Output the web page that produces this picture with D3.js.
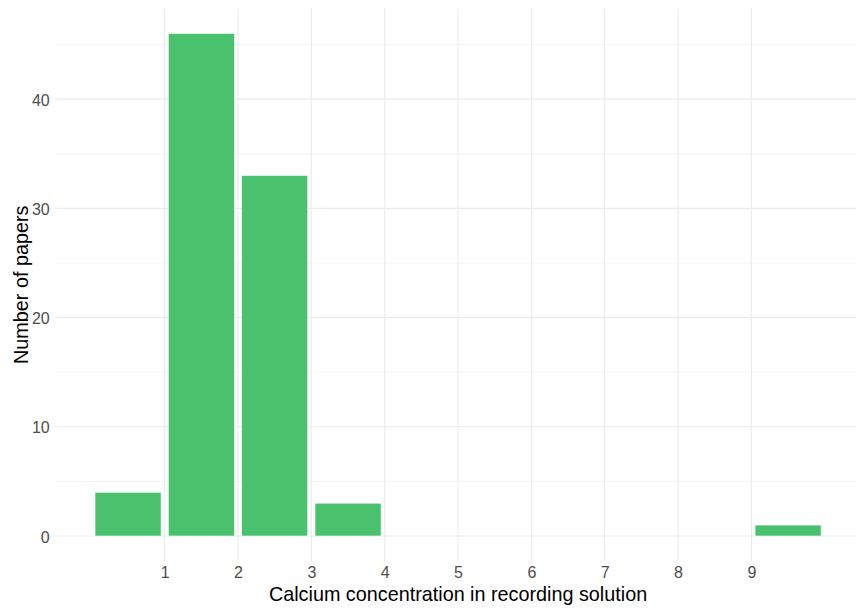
<!DOCTYPE html>
<html>
<head>
<meta charset="utf-8">
<script src="https://cdn.jsdelivr.net/npm/d3@7"></script>
<style>
  html, body { margin: 0; padding: 0; background: #fff; }
  svg { display: block; font-family: "Liberation Sans", Arial, sans-serif; }
</style>
</head>
<body>
<svg id="chart" width="856" height="610"></svg>
<script>
// Histogram: calcium concentration (bins of width 1) vs. number of papers
const binStarts = [0, 1, 2, 3, 9];
const paperCounts = [4, 46, 33, 3, 1];
const xTicks = [1, 2, 3, 4, 5, 6, 7, 8, 9];
const yTicks = [0, 10, 20, 30, 40];
const yMinorTicks = [5, 15, 25, 35, 45];

const svg = d3.select("#chart");
const W = 856, H = 610;

const x = d3.scaleLinear().domain([-0.5, 10.5]).range([54.7, 861.4]);
const y = d3.scaleLinear().domain([-2.3, 48.3]).range([561.1, 8.5]);

const panel = { left: 54.7, right: W, top: 8.5, bottom: 561.1 };

const grid = svg.append("g");
// minor horizontal grid
grid.selectAll("line.ymin").data(yMinorTicks).enter().append("line")
  .attr("x1", panel.left).attr("x2", panel.right)
  .attr("y1", d => y(d)).attr("y2", d => y(d))
  .attr("stroke", "#ebebeb").attr("stroke-width", 0.55);
// major horizontal grid
grid.selectAll("line.ymaj").data(yTicks).enter().append("line")
  .attr("x1", panel.left).attr("x2", panel.right)
  .attr("y1", d => y(d)).attr("y2", d => y(d))
  .attr("stroke", "#ebebeb").attr("stroke-width", 1.07);
// major vertical grid
grid.selectAll("line.xmaj").data(xTicks).enter().append("line")
  .attr("x1", d => x(d)).attr("x2", d => x(d))
  .attr("y1", panel.top).attr("y2", panel.bottom)
  .attr("stroke", "#ebebeb").attr("stroke-width", 1.07);

// bars (width 0.9 of the bin, centred in the bin)
const bars = binStarts.map((b, i) => ({ start: b, count: paperCounts[i] }));
svg.append("g").selectAll("rect").data(bars).enter().append("rect")
  .attr("x", d => x(d.start + 0.05))
  .attr("width", d => x(d.start + 0.95) - x(d.start + 0.05))
  .attr("y", d => y(d.count))
  .attr("height", d => y(0) - y(d.count))
  .attr("fill", "#4AC16D")
  .attr("stroke", "#f0faf3")
  .attr("stroke-width", 0.6);

// axes (text only, as in a minimal theme)
const xAxis = svg.append("g").attr("transform", `translate(0,${panel.bottom})`)
  .call(d3.axisBottom(x).tickValues(xTicks).tickFormat(d3.format("d")).tickSize(0).tickPadding(5.7));
const yAxis = svg.append("g").attr("transform", `translate(${panel.left},0)`)
  .call(d3.axisLeft(y).tickValues(yTicks).tickFormat(d3.format("d")).tickSize(0).tickPadding(5));
[xAxis, yAxis].forEach(a => {
  a.select(".domain").remove();
  a.selectAll("text").attr("fill", "#4d4d4d").style("font-size", "16px")
    .style("font-family", "'Liberation Sans', Arial, sans-serif");
});
yAxis.selectAll("text").attr("dy", "0.38em");

// axis titles
svg.append("text")
  .attr("x", (panel.left + 861.4) / 2).attr("y", 601)
  .attr("text-anchor", "middle")
  .style("font-size", "19.8px").attr("fill", "#000")
  .text("Calcium concentration in recording solution");

svg.append("text")
  .attr("transform", `translate(28,${(panel.top + panel.bottom) / 2}) rotate(-90)`)
  .attr("text-anchor", "middle")
  .style("font-size", "19.8px").attr("fill", "#000")
  .text("Number of papers");
</script>
</body>
</html>
